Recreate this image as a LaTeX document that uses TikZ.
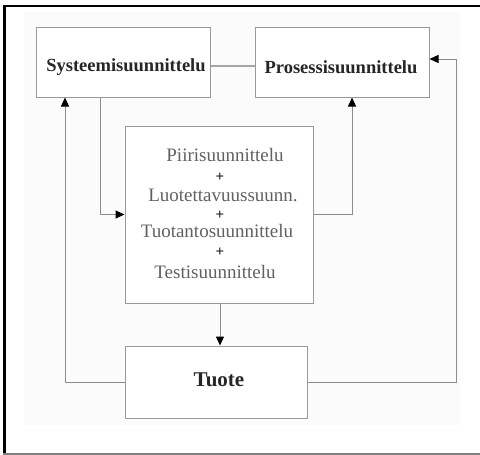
\documentclass[tikz,border=0pt]{standalone}
\usepackage{fontspec}
\setmainfont{Liberation Serif}
\usetikzlibrary{arrows.meta,calc}
\begin{document}
\begin{tikzpicture}[x=1pt,y=-1pt,
  box/.style={draw=black!40,line width=1pt,rectangle,inner sep=0pt},
  conn/.style={draw=black!45,line width=1pt},
  arr/.style={conn,-{Triangle[black,length=9pt,width=8pt]}},
  head/.style={font=\fontsize{18.5}{21}\selectfont\bfseries,text=black!85},
  midtxt/.style={font=\fontsize{19}{22}\selectfont,text=black!62,inner sep=0pt},
  plus/.style={font=\fontsize{15}{18}\selectfont\bfseries,text=black!90,inner sep=0pt}]
\useasboundingbox (0,0) rectangle (480,455);
\fill[black!1.5] (24,12) rectangle (460,425);
\draw[line width=2.5pt] (4.5,455) -- (4.5,6) -- (480,6);
\draw[black!50,line width=1.5pt] (3,454) -- (480,454);

\node[box,minimum width=174pt,minimum height=70pt,fill=white] (sys) at (123,62) {};
\node[head] (syst) at (126,67) {Systeemisuunnittelu};
\node[box,minimum width=174pt,minimum height=70pt,fill=white] (pro) at (342,62) {};
\node[head] (prot) at (341,67) {Prosessisuunnittelu};
\node[box,minimum width=188pt,minimum height=177pt,fill=white] (mid) at (219,214.5) {};
\node[box,minimum width=182pt,minimum height=72pt,fill=white] (tuo) at (216,382) {};
\node[font=\fontsize{21}{24}\selectfont\bfseries,text=black!85] (tuot) at (219,380) {Tuote};

\node[midtxt] (t1) at (225,155) {Piirisuunnittelu};
\node[plus] (t2) at (220,177) {+};
\node[midtxt] (t3) at (223,195) {Luotettavuussuunn.};
\node[plus] (t4) at (220,215) {+};
\node[midtxt] (t5) at (217,231) {Tuotantosuunnittelu};
\node[plus] (t6) at (220,252) {+};
\node[midtxt] (t7) at (215,272) {Testisuunnittelu};

\draw[conn,line width=2.5pt,draw=black!35] ([yshift=-4pt]sys.east) -- ([yshift=-4pt]pro.west);
\draw[arr] (tuo.west) -| ([xshift=-58pt]sys.south);
\draw[arr] ([xshift=-23pt]sys.south) |- (mid.west);
\draw[arr] (mid.east) -| ([xshift=10pt]pro.south);
\coordinate (rc) at (456,59);
\draw[arr] (tuo.east) -| (rc) -- ([yshift=3pt]pro.east);
\draw[arr] ([xshift=1pt]mid.south) -- ([xshift=1pt]mid.south |- tuo.north);
\end{tikzpicture}
\end{document}
